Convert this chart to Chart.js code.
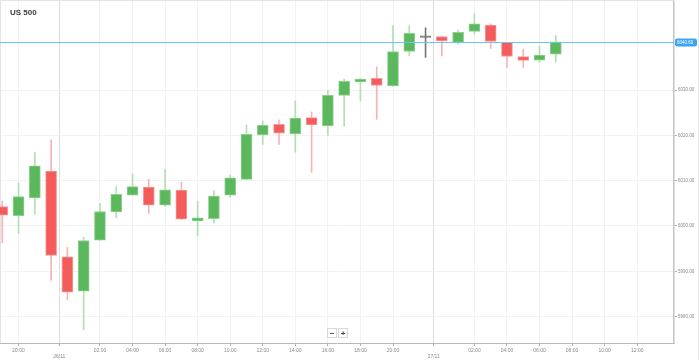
<!DOCTYPE html>
<html>
<head>
<meta charset="utf-8">
<script src="https://cdn.jsdelivr.net/npm/chart.js@4.4.1/dist/chart.umd.min.js"></script>
<style>
html,body{margin:0;padding:0;background:#fff;overflow:hidden;}
#wrap{width:699px;height:360px;position:relative;overflow:hidden;}
#c{position:absolute;left:0;top:-4px;}
</style>
</head>
<body>
<div id="wrap"><canvas id="c" width="699" height="364"></canvas></div>
<script>
const title = 'US 500';
const candleTimes = ['19:00','20:00','21:00','22:00','00:00','01:00','02:00','03:00','04:00','05:00','06:00','07:00','08:00','09:00','10:00','11:00','12:00','13:00','14:00','15:00','16:00','17:00','18:00','19:00','20:00','21:00','22:00','00:00','01:00','02:00','03:00','04:00','05:00','06:00','07:00'];
const opens  = [6004.3,6002.3,6006.2,6012.1,5993.2,5985.6,5996.9,6003.1,6006.8,6008.6,6004.6,6007.9,6001.1,6001.6,6006.8,6010.3,6020.1,6022.4,6020.3,6023.9,6022.1,6028.8,6031.8,6032.6,6030.9,6038.5,6041.6,6041.8,6040.5,6042.9,6044.3,6040.5,6037.4,6036.6,6037.9];
const highs  = [6005.5,6009.6,6016.2,6019.0,5995.3,5997.5,6005.0,6008.7,6011.5,6010.3,6012.5,6009.7,6005.5,6007.8,6011.3,6022.3,6023.2,6023.4,6027.6,6025.2,6029.9,6032.4,6032.5,6035.1,6044.2,6044.2,6043.7,6041.8,6043.2,6046.9,6044.6,6040.5,6039.0,6039.8,6042.0];
const lows   = [5996.3,5998.3,6002.6,5988.0,5983.7,5977.1,5996.8,6001.8,6006.8,6002.8,6004.3,6001.4,5997.8,6000.6,6006.3,6010.3,6018.0,6018.0,6016.3,6011.8,6020.0,6022.0,6027.6,6023.5,6030.8,6037.5,6037.2,6037.5,6040.1,6042.3,6039.2,6035.0,6035.0,6036.1,6036.2];
const closes = [6002.4,6006.5,6013.3,5993.5,5985.4,5996.8,6003.2,6007.0,6008.7,6004.6,6008.0,6001.5,6001.8,6006.6,6010.6,6020.2,6022.2,6020.5,6023.8,6022.3,6028.8,6031.9,6032.4,6031.0,6038.5,6042.5,6041.6,6040.8,6042.7,6044.6,6040.7,6037.4,6036.5,6037.7,6040.6];
const xTickPos   = [1,3.5,6,8,10,12,14,16,18,20,22,24,26.5,29,31,33,35,37,39];
const xTickLabels= ['20:00','26/11','02:00','04:00','06:00','08:00','10:00','12:00','14:00','16:00','18:00','20:00','27/11','02:00','04:00','06:00','08:00','10:00','12:00'];
const dateSeparators = [3.5,26.5];
const yTicks = [5980,5990,6000,6010,6020,6030];

const GREEN='#5cb85c', RED='#f45b5b', GREY='#777777';
const GREEN_B='#8fd08f', RED_B='#f79a9a';
const GREEN_W='#b3e0b3', RED_W='#f8b4b4';
const dir = closes.map((c,i)=> c>opens[i]?1:(c<opens[i]?-1:0));
const bodyFill = dir.map(d=> d>0?GREEN:(d<0?RED:GREY));
const bodyBorder = dir.map(d=> d>0?GREEN_B:(d<0?RED_B:GREY));
const wickColor = dir.map(d=> d>0?GREEN_W:(d<0?RED_W:GREY));

const bodies = candleTimes.map((t,i)=>({x:i, y:[opens[i], closes[i]]}));
const wicks  = candleTimes.map((t,i)=>({x:i, y:[lows[i], highs[i]]}));

const FONT='"Liberation Sans", Arial, sans-serif';
const SHIFT = 4; // canvas is drawn 4px higher than the page

const overlay = {
  id:'overlay',
  beforeDatasetsDraw(chart){
    const {ctx, chartArea:a} = chart;
    ctx.save();
    ctx.strokeStyle='#e4e4e4'; ctx.lineWidth=1;
    ctx.beginPath(); ctx.moveTo(a.left,SHIFT+0.5); ctx.lineTo(a.right,SHIFT+0.5); ctx.stroke();
    ctx.beginPath(); ctx.moveTo(0.5,a.top); ctx.lineTo(0.5,a.bottom); ctx.stroke();
    ctx.beginPath(); ctx.moveTo(698.5,0); ctx.lineTo(698.5,364); ctx.stroke();
    ctx.restore();
  },
  afterDraw(chart){
    const {ctx, chartArea:a, scales:{y}} = chart;
    ctx.save();
    ctx.fillStyle='#3a3a3a';
    ctx.font='bold 8px '+FONT;
    ctx.textBaseline='alphabetic';
    ctx.fillText(title, 10, 15+SHIFT);
    const last = closes[closes.length-1];
    const py = Math.round(y.getPixelForValue(last))+0.5;
    ctx.strokeStyle='#6cc4f7'; ctx.lineWidth=1;
    ctx.beginPath(); ctx.moveTo(a.left,py); ctx.lineTo(a.right,py); ctx.stroke();
    ctx.fillStyle='#3ea3f0';
    const tx=a.right+1, tw=22, th=8;
    ctx.beginPath();
    if (ctx.roundRect) ctx.roundRect(tx, py-th/2, tw, th, 2); else ctx.rect(tx, py-th/2, tw, th);
    ctx.fill();
    ctx.fillStyle='#ffffff';
    ctx.font='4.5px '+FONT;
    ctx.textBaseline='middle';
    ctx.textAlign='left';
    ctx.fillText(last.toFixed(2), tx+2, py+0.5);
    const bx=327, by=328+SHIFT, bs=10;
    ['\u2212','+'].forEach((s,k)=>{
      const x0=bx+k*(bs+1);
      ctx.fillStyle='#ffffff';
      ctx.strokeStyle='#d8d8d8';
      ctx.fillRect(x0,by,bs,bs);
      ctx.strokeRect(x0+0.5,by+0.5,bs-1,bs-1);
      ctx.fillStyle='#444';
      ctx.font='bold 8px '+FONT;
      ctx.textAlign='center';
      ctx.textBaseline='middle';
      ctx.fillText(s, x0+bs/2, by+bs/2+0.5);
    });
    ctx.restore();
  }
};

new Chart(document.getElementById('c'), {
  type:'bar',
  data:{
    datasets:[
      {data:wicks, backgroundColor:wickColor, borderWidth:0, barThickness:1, grouped:false, order:2},
      {data:bodies, backgroundColor:bodyFill, borderColor:bodyBorder, borderWidth:1, borderSkipped:false, barThickness:11, minBarLength:1.5, grouped:false, order:1}
    ]
  },
  options:{
    responsive:false,
    animation:false,
    devicePixelRatio:1,
    layout:{padding:0, autoPadding:false},
    plugins:{legend:{display:false}, tooltip:{enabled:false}, title:{display:false}},
    scales:{
      x:{
        type:'linear',
        min:-0.14, max:41.26,
        offset:false,
        afterFit(s){ s.height=17; },
        afterBuildTicks(s){ s.ticks = xTickPos.map(v=>({value:v})); },
        ticks:{
          autoSkip:false, maxRotation:0, padding:1,
          color:'#8a8a8a',
          font:{family:FONT, size:5, lineHeight:1.25},
          callback(v){ const k=xTickPos.indexOf(v); if(k<0) return ''; return dateSeparators.includes(v)?['',xTickLabels[k]]:xTickLabels[k]; }
        },
        grid:{
          offset:false,
          color(ctx){ return ctx.tick && dateSeparators.includes(ctx.tick.value)?'#dedede':'#f2f2f2'; },
          tickColor:'#b0b0b0', tickLength:3, drawTicks:true
        },
        border:{display:true, color:'#b8b8b8', width:1}
      },
      y:{
        type:'linear', position:'right',
        min:5974.19, max:6049.92,
        afterFit(s){ s.width=25; },
        afterBuildTicks(s){ s.ticks = yTicks.map(v=>({value:v})); },
        ticks:{
          padding:1, color:'#8a8a8a',
          font:{family:FONT, size:4.5},
          callback(v){ return Number(v).toFixed(2); }
        },
        grid:{color:'#f2f2f2', tickColor:'#b0b0b0', tickLength:3},
        border:{display:true, color:'#c4c4c4', width:1.5}
      }
    }
  },
  plugins:[overlay]
});
</script>
</body>
</html>
